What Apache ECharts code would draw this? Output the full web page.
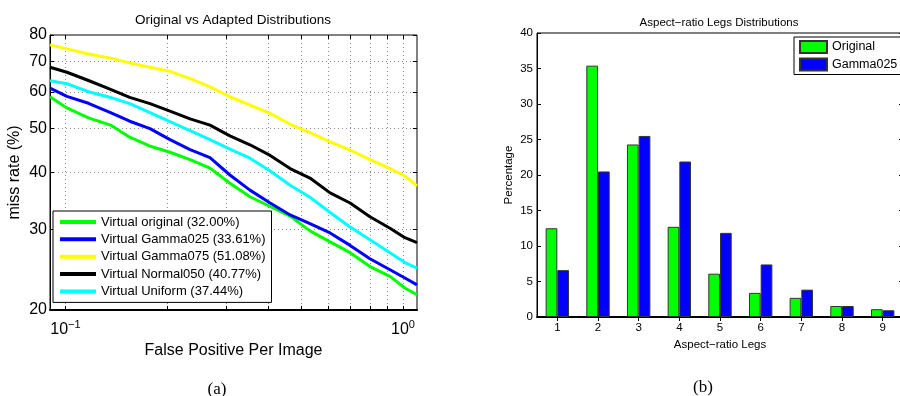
<!DOCTYPE html>
<html><head><meta charset="utf-8">
<script src="https://cdn.jsdelivr.net/npm/echarts@6/dist/echarts.min.js"></script>
<style>html,body{margin:0;padding:0;background:#fff}#c{width:900px;height:396px}</style>
</head><body><div id="c"></div>
<script>
// ---- Left chart: miss rate vs FPPI ----
const fppi = [0.09,0.101,0.117,0.136,0.155,0.178,0.204,0.234,0.268,0.307,0.352,0.404,0.463,0.530,0.608,0.697,0.798,0.915,1.013,1.1];
const missOriginal  = [58.6,55.4,52.7,50.8,47.8,45.7,44.3,42.7,40.9,37.9,35.4,33.7,32.1,29.8,28.2,26.7,24.9,23.7,22.35,21.6];
const missGamma025  = [61.2,58.7,56.7,54.1,51.8,49.9,47.2,44.9,43.1,39.5,36.6,34.3,32.3,30.9,29.5,27.7,25.9,24.5,23.5,22.7];
const missGamma075  = [76.1,74.6,72.7,71.2,69.5,68.0,66.6,64.2,61.6,58.6,56.2,53.9,51.0,48.9,46.7,44.8,42.7,40.8,39.3,37.4];
const missNormal050 = [68.0,66.3,63.6,60.8,58.4,56.6,54.5,52.4,50.8,48.1,46.0,43.6,40.8,38.9,36.1,34.3,32.0,30.2,28.8,28.1];
const missUniform   = [63.5,62.6,60.1,58.4,56.6,54.1,51.7,49.4,47.2,45.0,43.0,40.3,37.5,35.3,32.7,30.4,28.5,26.7,25.4,24.7];
const lineNames = ['Virtual original (32.00%)','Virtual Gamma025 (33.61%)','Virtual Gamma075 (51.08%)','Virtual Normal050 (40.77%)','Virtual Uniform (37.44%)'];
const lineColors = ['#00ff00','#0000ff','#ffff00','#000000','#00ffff'];
const missTicks = [20,30,40,50,60,70,80];
const fppiTicks = [0.1,0.2,0.3,0.4,0.5,0.6,0.7,0.8,0.9,1];
const fppiLabelTicks = [0.1,1];

// ---- Right chart: bar distributions ----
const legCats = ['1','2','3','4','5','6','7','8','9'];
const pctOriginal = [12.5,35.4,24.3,12.7,6.1,3.4,2.7,1.55,1.1];
const pctGamma025 = [6.6,20.5,25.5,21.9,11.85,7.4,3.85,1.55,0.95];
const barNames = ['Original','Gamma025'];

const FONT = 'Liberation Sans, Arial, Helvetica, sans-serif';
const SERIF = 'Liberation Serif, Times New Roman, serif';

const missSeries = [missOriginal, missGamma025, missGamma075, missNormal050, missUniform];

const chart = echarts.init(document.getElementById('c'), null, {renderer:'canvas'});

const gridDot = {show:true, lineStyle:{color:'#8c8c8c', type:[1,3], width:1}};

const option = {
  animation:false,
  backgroundColor:'#fff',
  textStyle:{fontFamily:FONT},
  title:[
    {text:'Original vs Adapted Distributions', left:228, top:8, textAlign:'center',
     textStyle:{fontSize:13.5, fontWeight:'normal', color:'#000', fontFamily:FONT}},
    {text:'Aspect\u2212ratio Legs Distributions', left:714, top:12, textAlign:'center',
     textStyle:{fontSize:11.5, fontWeight:'normal', color:'#000', fontFamily:FONT}},
    {text:'(a)', left:212, top:376, textAlign:'center',
     textStyle:{fontSize:17, fontWeight:'normal', color:'#000', fontFamily:SERIF}},
    {text:'(b)', left:698, top:374, textAlign:'center',
     textStyle:{fontSize:17, fontWeight:'normal', color:'#000', fontFamily:SERIF}}
  ],
  legend:[
    {data:lineNames, orient:'vertical', left:53, top:211, itemWidth:36, itemHeight:4, itemGap:3.35,
     icon:'rect', padding:[4,6,4,7], borderColor:'#000', borderWidth:1, backgroundColor:'#fff',
     selectedMode:false, textStyle:{fontSize:13, lineHeight:14, color:'#000', fontFamily:FONT}, z:10},
    {data:barNames, orient:'vertical', left:794, top:37, itemWidth:27, itemHeight:12, itemGap:3.5,
     icon:'rect', padding:[3,4,3,5], borderColor:'#000', borderWidth:1, backgroundColor:'#fff',
     selectedMode:false, textStyle:{fontSize:12.5, color:'#000', fontFamily:FONT}, z:10}
  ],
  grid:[
    {left:50, top:35, width:367, height:275, show:true, borderColor:'#000', borderWidth:1, outerBoundsMode:'none', containLabel:false},
    {left:537, top:33, width:366, height:284, show:true, borderColor:'#000', borderWidth:1, outerBoundsMode:'none', containLabel:false}
  ],
  xAxis:[
    {gridIndex:0, type:'log', logBase:10, min:0.09, max:1.1,
     name:'False Positive Per Image', nameLocation:'middle', nameGap:28,
     nameTextStyle:{fontSize:16, color:'#000', fontFamily:FONT},
     axisLine:{show:true, onZero:false, lineStyle:{color:'#000', width:2}},
     axisTick:{show:true, inside:true, length:4, customValues:fppiTicks, lineStyle:{color:'#000'}},
     splitLine:gridDot,
     axisLabel:{customValues:fppiLabelTicks, margin:9, color:'#000',
       formatter:function(v){const e=Math.round(Math.log10(v));return '{b|10}{s|'+(e<0?'\u2212'+(-e):String(e))+'}';},
       rich:{b:{fontSize:16, fontFamily:FONT, color:'#000'}, s:{fontSize:11, fontFamily:FONT, color:'#000', padding:[0,0,10,0]}}}},
    {gridIndex:0, type:'log', logBase:10, min:0.09, max:1.1, position:'top',
     axisLine:{show:false}, axisLabel:{show:false}, splitLine:{show:false},
     axisTick:{show:true, inside:true, length:4, customValues:fppiTicks, lineStyle:{color:'#000'}}},
    {gridIndex:1, type:'category', data:legCats,
     name:'Aspect\u2212ratio Legs', nameLocation:'middle', nameGap:19,
     nameTextStyle:{fontSize:11.5, color:'#000', fontFamily:FONT},
     axisLine:{show:true, lineStyle:{color:'#000', width:2}},
     axisTick:{show:false},
     axisLabel:{fontSize:11.5, color:'#000', margin:5, fontFamily:FONT}},
    {gridIndex:1, type:'category', data:legCats, position:'top',
     axisLine:{show:false}, axisLabel:{show:false},
     axisTick:{show:true, inside:true, alignWithLabel:true, length:4, lineStyle:{color:'#000'}}}
  ],
  yAxis:[
    {gridIndex:0, type:'log', logBase:10, min:20, max:80,
     name:'miss rate (%)', nameLocation:'middle', nameGap:27,
     nameTextStyle:{fontSize:16, color:'#000', fontFamily:FONT},
     axisLine:{show:true, onZero:false, lineStyle:{color:'#000', width:1}},
     axisTick:{show:true, inside:true, length:4, customValues:missTicks, lineStyle:{color:'#000'}},
     splitLine:gridDot,
     axisLabel:{customValues:missTicks, fontSize:16, color:'#000', margin:3, fontFamily:FONT}},
    {gridIndex:0, type:'log', logBase:10, min:20, max:80, position:'right',
     axisLine:{show:false}, axisLabel:{show:false}, splitLine:{show:false},
     axisTick:{show:true, inside:true, length:4, customValues:missTicks, lineStyle:{color:'#000'}}},
    {gridIndex:1, type:'value', min:0, max:40, interval:5,
     name:'Percentage', nameLocation:'middle', nameGap:22,
     nameTextStyle:{fontSize:11.5, color:'#000', fontFamily:FONT},
     axisLine:{show:true, lineStyle:{color:'#000', width:1}},
     axisTick:{show:true, inside:true, length:4, lineStyle:{color:'#000'}},
     splitLine:{show:false},
     axisLabel:{fontSize:11.5, color:'#000', margin:4, fontFamily:FONT}},
    {gridIndex:1, type:'value', min:0, max:40, interval:5, position:'right',
     axisLine:{show:false}, axisLabel:{show:false}, splitLine:{show:false},
     axisTick:{show:true, inside:true, length:4, lineStyle:{color:'#000'}}}
  ],
  series:[]
};

missSeries.forEach(function(arr, i){
  option.series.push({
    name:lineNames[i], type:'line', xAxisIndex:0, yAxisIndex:0,
    data:fppi.map(function(x, j){return [x, arr[j]];}),
    showSymbol:false, symbol:'none', smooth:false,
    lineStyle:{color:lineColors[i], width:3},
    itemStyle:{color:lineColors[i]}, z:3
  });
});

[pctOriginal, pctGamma025].forEach(function(arr, i){
  option.series.push({
    name:barNames[i], type:'bar', xAxisIndex:2, yAxisIndex:2,
    data:arr, barWidth:11.7, barGap:'0%',
    itemStyle:{color:i===0?'#00ff00':'#0000ff', borderColor:'#333', borderWidth:1}
  });
});

chart.setOption(option);
</script>
</body></html>
